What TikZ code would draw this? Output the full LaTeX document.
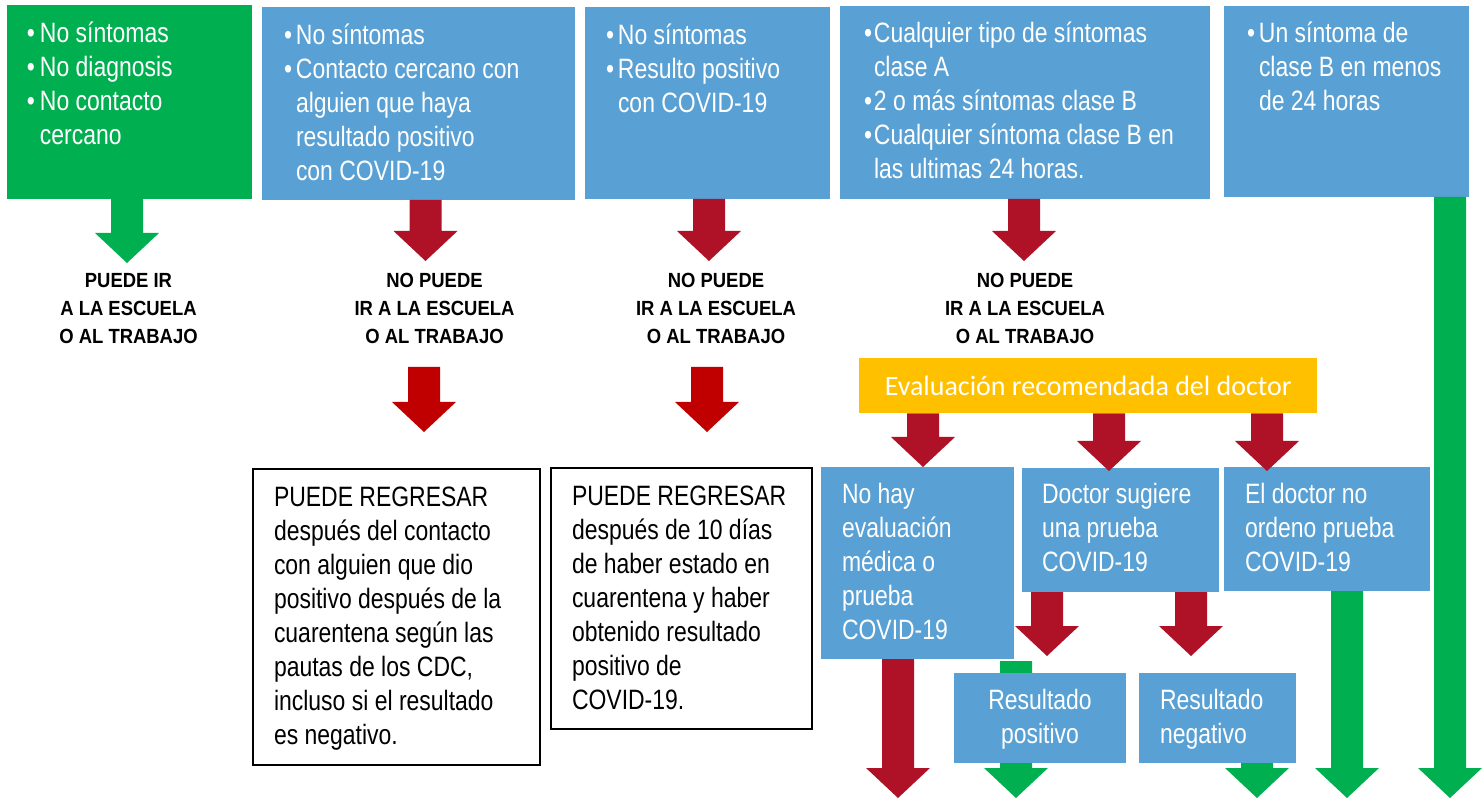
\documentclass[tikz,border=0pt]{standalone}
\usepackage{fontspec}
\setmainfont{Liberation Sans}[FakeStretch=0.82]
\newfontfamily\califont{Carlito}
\newfontfamily\labfont{Liberation Sans}[FakeStretch=0.9]
\usetikzlibrary{calc}
\pgfdeclarelayer{background}
\pgfsetlayers{background,main}
\definecolor{cblue}{RGB}{89,161,212}
\definecolor{cgreen}{RGB}{0,176,80}
\definecolor{crim}{RGB}{175,17,38}
\definecolor{cred}{RGB}{192,0,0}
\definecolor{corange}{RGB}{255,192,0}
\newcommand\bxt[4]{\parbox[t][#2][t]{#1}{\vspace*{#3}#4}}
\tikzset{
  box/.style={anchor=north west, inner sep=0pt, outer sep=0pt, text=white,
    font=\fontsize{28}{34}\selectfont},
  outbox/.style={box, text=black, fill=white, draw=black, line width=2pt},
  lab/.style={anchor=base, inner sep=0pt, text=black,
    font=\labfont\bfseries\fontsize{20.5}{28}\selectfont},
  fat/.style={to path={let \p1=(\tikztostart), \p2=(\tikztotarget) in
    (\x1-16pt,\y1) -- (\x1-16pt,\y2+30pt) -- (\x1-32pt,\y2+30pt) -- (\x1,\y2)
    -- (\x1+32pt,\y2+30pt) -- (\x1+16pt,\y2+30pt) -- (\x1+16pt,\y1) -- cycle}}
}
\begin{document}
\begin{tikzpicture}[x=1pt,y=-1pt]
\useasboundingbox (0,0) rectangle (1484,799);
% top boxes
\node[box, fill=cgreen] (b1) at (7,5) {\bxt{245pt}{194pt}{14.2pt}{\hspace*{20pt}\begin{tabular}[t]{@{}p{13pt}@{}l@{}}•&No síntomas\\•&No diagnosis\\•&No contacto\\&cercano\end{tabular}}};
\node[box, fill=cblue] (b2) at (262,7) {\bxt{313pt}{193pt}{14.2pt}{\hspace*{22pt}\begin{tabular}[t]{@{}p{12pt}@{}l@{}}•&No síntomas\\•&Contacto cercano con\\&alguien que haya\\&resultado positivo\\&con COVID-19\end{tabular}}};
\node[box, fill=cblue] (b3) at (585,7) {\bxt{245pt}{192pt}{14.2pt}{\hspace*{21pt}\begin{tabular}[t]{@{}p{12pt}@{}l@{}}•&No síntomas\\•&Resulto positivo\\&con COVID-19\end{tabular}}};
\node[box, fill=cblue] (b4) at (840,6) {\bxt{370pt}{193pt}{13.2pt}{\hspace*{24pt}\begin{tabular}[t]{@{}p{10pt}@{}l@{}}•&Cualquier tipo de síntomas\\&clase A\\•&2 o más síntomas clase B\\•&Cualquier síntoma clase B en\\&las ultimas 24 horas.\end{tabular}}};
\node[box, fill=cblue] (b5) at (1224,6) {\bxt{245pt}{191pt}{13.2pt}{\hspace*{23pt}\begin{tabular}[t]{@{}p{12pt}@{}l@{}}•&Un síntoma de\\&clase B en menos\\&de 24 horas\end{tabular}}};
% labels
\node[lab] (l1) at (128.5,287.5) {\begin{tabular}[t]{@{}c@{}}PUEDE IR\\A LA ESCUELA\\O AL TRABAJO\end{tabular}};
\node[lab] (l2) at (434.5,287.5) {\begin{tabular}[t]{@{}c@{}}NO PUEDE\\IR A LA ESCUELA\\O AL TRABAJO\end{tabular}};
\node[lab] (l3) at (716,287.5) {\begin{tabular}[t]{@{}c@{}}NO PUEDE\\IR A LA ESCUELA\\O AL TRABAJO\end{tabular}};
\node[lab] (l4) at (1025,287.5) {\begin{tabular}[t]{@{}c@{}}NO PUEDE\\IR A LA ESCUELA\\O AL TRABAJO\end{tabular}};
% evaluation bar
\node[anchor=north west, inner sep=0pt, fill=corange, minimum width=458pt, minimum height=55pt, text=white, font=\califont\fontsize{28}{34}\selectfont] (ev) at (859,358) {Evaluación recomendada del doctor};
% lower left outcome boxes
\node[outbox] (r1) at (253,469) {\bxt{287pt}{296pt}{14.2pt}{\hspace*{21pt}\begin{tabular}[t]{@{}l@{}}PUEDE REGRESAR\\después del contacto\\con alguien que dio\\positivo después de la\\cuarentena según las\\pautas de los CDC,\\incluso si el resultado\\es negativo.\end{tabular}}};
\node[outbox] (r2) at (551,468) {\bxt{261pt}{261pt}{14.2pt}{\hspace*{21pt}\begin{tabular}[t]{@{}l@{}}PUEDE REGRESAR\\después de 10 días\\de haber estado en\\cuarentena y haber\\obtenido resultado\\positivo de\\COVID-19.\end{tabular}}};
% doctor outcome boxes
\node[box, fill=cblue] (m1) at (821,467) {\bxt{193pt}{192pt}{13.2pt}{\hspace*{21pt}\begin{tabular}[t]{@{}l@{}}No hay\\evaluación\\médica o\\prueba\\COVID-19\end{tabular}}};
\node[box, fill=cblue] (m2) at (1022,468) {\bxt{197pt}{124pt}{12.2pt}{\hspace*{20pt}\begin{tabular}[t]{@{}l@{}}Doctor sugiere\\una prueba\\COVID-19\end{tabular}}};
\node[box, fill=cblue] (m3) at (1224,467) {\bxt{206pt}{124pt}{13.2pt}{\hspace*{21pt}\begin{tabular}[t]{@{}l@{}}El doctor no\\ordeno prueba\\COVID-19\end{tabular}}};
\node[box, fill=cblue] (p) at (954,673) {\bxt{172pt}{90pt}{12.2pt}{\centering\begin{tabular}[t]{@{}c@{}}Resultado\\positivo\end{tabular}}};
\node[box, fill=cblue] (n) at (1139,673) {\bxt{157pt}{90pt}{12.2pt}{\hspace*{21pt}\begin{tabular}[t]{@{}l@{}}Resultado\\negativo\end{tabular}}};
% arrow ends
\coordinate (t1) at (127,263);
\coordinate (t2) at (425.5,261);
\coordinate (t3) at (709,261);
\coordinate (t4) at (1024,261);
\coordinate (t5) at (1450,798);
\coordinate (s6) at (424,367);
\coordinate (t6) at (424,432);
\coordinate (s7) at (707,367);
\coordinate (t7) at (707,432);
\coordinate (t8) at (923,467);
\coordinate (t9) at (1109,471);
\coordinate (t10) at (1267,471);
\coordinate (t11) at (898,798);
\coordinate (t12) at (1047,656);
\coordinate (t13) at (1191,656);
\coordinate (s14) at (1016,661);
\coordinate (t14) at (1016,798);
\coordinate (t15) at (1257,798);
\coordinate (t16) at (1347,798);
% arrows
\fill[cgreen] (b1.south -| t1) to[fat] (t1);
\fill[crim] (b2.south -| t2) to[fat] (t2);
\fill[crim] (b3.south -| t3) to[fat] (t3);
\fill[crim] (b4.south -| t4) to[fat] (t4);
\fill[cgreen] (b5.south -| t5) to[fat] (t5);
\fill[cred] (s6) to[fat] (t6);
\fill[cred] (s7) to[fat] (t7);
\fill[crim] (ev.south -| t8) to[fat] (t8);
\fill[crim] (ev.south -| t9) to[fat] (t9);
\fill[crim] (ev.south -| t10) to[fat] (t10);
\fill[crim] (m1.south -| t11) to[fat] (t11);
\fill[crim] (m2.south -| t12) to[fat] (t12);
\fill[crim] (m2.south -| t13) to[fat] (t13);
\begin{pgfonlayer}{background}
\fill[cgreen] (s14) to[fat] (t14);
\end{pgfonlayer}
\fill[cgreen] (n.south -| t15) to[fat] (t15);
\fill[cgreen] (m3.south -| t16) to[fat] (t16);
\end{tikzpicture}
\end{document}
